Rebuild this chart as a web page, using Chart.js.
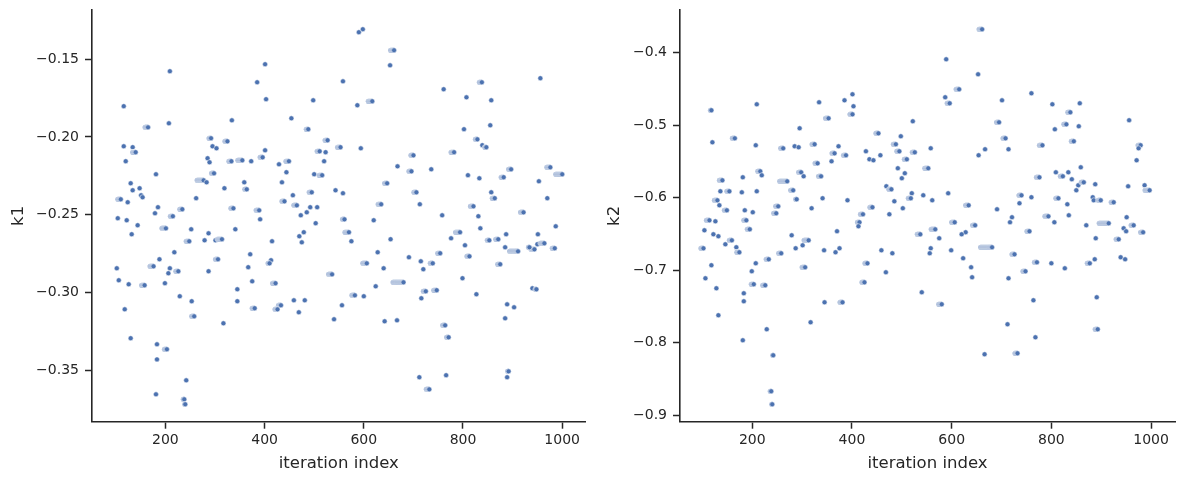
<!DOCTYPE html>
<html>
<head>
<meta charset="utf-8">
<script src="https://cdn.jsdelivr.net/npm/chart.js@4.4.1/dist/chart.umd.min.js"></script>
<style>
  body { margin: 0; background: #fff; }
  .panel { position: absolute; top: 0; height: 484px; }
</style>
</head>
<body>
<div class="panel" style="left:0;width:590px"><canvas id="k1" width="590" height="484"></canvas></div>
<div class="panel" style="left:590px;width:593px"><canvas id="k2" width="593" height="484"></canvas></div>
<script>
// each run: [last iteration, value, number of iterations the value was kept]
const k1Runs = [
  [209,-0.1577,1],[116,-0.1802,1],[165,-0.1938,7],[207,-0.1912,1],[292,-0.2008,5],[116,-0.2060,1],
  [134,-0.2066,1],[140,-0.2098,7],[295,-0.2060,1],[303,-0.2073,1],[120,-0.2156,1],[285,-0.2137,1],
  [289,-0.2163,1],[181,-0.2240,1],[298,-0.2234,6],[130,-0.2298,1],[148,-0.2330,1],[134,-0.2343,1],
  [277,-0.2279,14],[283,-0.2292,1],[110,-0.2401,7],[124,-0.2420,1],[151,-0.2375,1],[154,-0.2388,1],
  [185,-0.2452,1],[179,-0.2491,1],[262,-0.2394,1],[234,-0.2465,6],[215,-0.2510,6],[104,-0.2523,1],
  [122,-0.2536,1],[144,-0.2568,1],[132,-0.2626,1],[201,-0.2588,9],[252,-0.2594,1],[287,-0.2620,1],
  [248,-0.2671,7],[279,-0.2665,1],[301,-0.2665,1],[314,-0.2658,10],[218,-0.2742,1],[188,-0.2787,1],
  [102,-0.2845,1],[176,-0.2832,8],[209,-0.2845,1],[206,-0.2877,1],[226,-0.2864,6],[306,-0.2787,6],
  [287,-0.2864,1],[106,-0.2922,1],[126,-0.2948,1],[158,-0.2954,7],[199,-0.2941,1],[229,-0.3025,1],
  [253,-0.3057,1],[258,-0.3154,6],[118,-0.3109,1],[317,-0.3199,1],[130,-0.3295,1],[183,-0.3334,1],
  [203,-0.3366,6],[183,-0.3431,1],[242,-0.3566,1],[181,-0.3656,1],[238,-0.3688,3],[240,-0.3720,2],
  [401,-0.1532,1],[385,-0.1648,1],[403,-0.1757,1],[558,-0.1642,1],[498,-0.1764,1],[334,-0.1893,1],
  [454,-0.1880,1],[488,-0.1950,5],[325,-0.2028,6],[401,-0.2086,1],[396,-0.2131,6],[333,-0.2156,6],
  [355,-0.2150,10],[373,-0.2156,1],[429,-0.2176,1],[449,-0.2156,7],[444,-0.2227,1],[527,-0.2021,6],
  [511,-0.2092,6],[523,-0.2098,1],[553,-0.2066,7],[520,-0.2156,1],[500,-0.2240,1],[516,-0.2246,7],
  [359,-0.2292,1],[435,-0.2292,1],[319,-0.2330,1],[364,-0.2337,5],[457,-0.2375,1],[495,-0.2356,6],
  [543,-0.2343,1],[558,-0.2362,1],[337,-0.2459,6],[389,-0.2472,7],[440,-0.2414,6],[465,-0.2440,7],
  [492,-0.2452,1],[506,-0.2452,1],[485,-0.2485,1],[473,-0.2504,1],[391,-0.2530,1],[561,-0.2530,5],
  [503,-0.2555,1],[341,-0.2594,1],[479,-0.2613,1],[470,-0.2639,1],[475,-0.2678,1],[415,-0.2671,1],
  [570,-0.2613,9],[371,-0.2755,1],[367,-0.2838,1],[413,-0.2793,1],[410,-0.2813,4],[375,-0.2929,1],
  [422,-0.2941,7],[345,-0.2980,1],[345,-0.3057,1],[380,-0.3102,6],[433,-0.3083,6],[426,-0.3109,6],
  [459,-0.3051,1],[481,-0.3051,1],[469,-0.3128,1],[536,-0.2884,8],[556,-0.3083,1],[540,-0.3173,1],
  [598,-0.1307,1],[590,-0.1326,1],[661,-0.1442,8],[653,-0.1539,1],[761,-0.1693,1],[807,-0.1745,1],
  [617,-0.1770,9],[587,-0.1796,1],[802,-0.1950,1],[594,-0.2073,1],[700,-0.2118,6],[782,-0.2098,7],
  [668,-0.2189,1],[696,-0.2221,6],[736,-0.2208,1],[810,-0.2246,1],[647,-0.2298,6],[706,-0.2356,6],
  [713,-0.2433,1],[635,-0.2433,7],[758,-0.2504,1],[821,-0.2446,7],[620,-0.2536,1],[575,-0.2671,1],
  [654,-0.2658,1],[794,-0.2613,10],[776,-0.2652,1],[804,-0.2697,1],[628,-0.2742,1],[606,-0.2813,9],
  [640,-0.2845,1],[691,-0.2774,1],[715,-0.2800,1],[720,-0.2851,1],[739,-0.2813,6],[754,-0.2748,6],
  [813,-0.2768,6],[799,-0.2909,1],[624,-0.2961,1],[582,-0.3019,7],[600,-0.3025,1],[680,-0.2935,22],
  [725,-0.2993,6],[747,-0.2986,7],[716,-0.3038,1],[642,-0.3186,1],[667,-0.3180,1],[764,-0.3212,6],
  [771,-0.3289,5],[712,-0.3546,1],[766,-0.3533,1],[732,-0.3624,7],
  [956,-0.1622,1],[838,-0.1648,6],[857,-0.1764,1],[855,-0.1925,1],[829,-0.2015,5],[839,-0.2053,1],
  [847,-0.2066,4],[897,-0.2208,6],[976,-0.2195,8],[1000,-0.2240,14],[833,-0.2266,1],[882,-0.2259,6],
  [953,-0.2285,1],[857,-0.2356,1],[864,-0.2394,6],[970,-0.2394,1],[831,-0.2510,1],[922,-0.2485,7],
  [835,-0.2588,1],[987,-0.2575,1],[853,-0.2665,5],[871,-0.2658,6],[887,-0.2626,1],[951,-0.2626,1],
  [885,-0.2710,1],[911,-0.2736,18],[944,-0.2723,8],[934,-0.2710,3],[950,-0.2690,1],[964,-0.2684,9],
  [985,-0.2716,6],[875,-0.2819,6],[827,-0.3012,1],[940,-0.2974,1],[948,-0.2980,3],[889,-0.3077,1],
  [903,-0.3096,1],[885,-0.3167,1],[892,-0.3508,3],[889,-0.3546,1]
];

const k2Runs = [
  [118,-0.4794,3],[209,-0.4712,1],[120,-0.5236,1],[165,-0.5181,6],[207,-0.5277,1],[295,-0.5043,1],
  [262,-0.5319,6],[285,-0.5291,1],[293,-0.5305,1],[216,-0.5636,6],[219,-0.5691,1],[181,-0.5719,1],
  [140,-0.5760,7],[270,-0.5774,16],[298,-0.5650,6],[303,-0.5705,1],[136,-0.5912,1],[154,-0.5912,6],
  [179,-0.5926,1],[209,-0.5912,1],[282,-0.5898,6],[289,-0.6022,3],[130,-0.6036,7],[134,-0.6105,1],
  [149,-0.6174,6],[185,-0.6174,1],[201,-0.6201,1],[252,-0.6119,6],[248,-0.6215,6],[114,-0.6312,7],
  [126,-0.6326,1],[188,-0.6312,6],[104,-0.6450,1],[122,-0.6505,1],[132,-0.6532,1],[159,-0.6588,6],
  [195,-0.6436,6],[146,-0.6643,1],[168,-0.6684,1],[174,-0.6753,6],[102,-0.6698,6],[279,-0.6519,1],
  [287,-0.6698,1],[301,-0.6657,1],[313,-0.6588,10],[233,-0.6850,6],[258,-0.6767,6],[118,-0.6932,1],
  [207,-0.6905,1],[199,-0.7015,1],[306,-0.6960,7],[106,-0.7112,1],[128,-0.7250,1],[203,-0.7194,6],
  [226,-0.7208,6],[183,-0.7319,1],[183,-0.7429,1],[132,-0.7622,1],[229,-0.7815,1],[317,-0.7719,1],
  [181,-0.7967,1],[242,-0.8174,2],[238,-0.8670,3],[240,-0.8850,2],
  [401,-0.4574,1],[385,-0.4657,1],[334,-0.4684,1],[403,-0.4739,1],[401,-0.4850,6],[353,-0.4905,7],
  [522,-0.4946,1],[453,-0.5112,6],[498,-0.5153,1],[325,-0.5263,6],[373,-0.5291,1],[365,-0.5388,6],
  [388,-0.5415,6],[428,-0.5360,1],[457,-0.5415,1],[435,-0.5470,1],[443,-0.5484,1],[488,-0.5263,6],
  [495,-0.5360,6],[526,-0.5374,6],[558,-0.5319,1],[510,-0.5470,6],[331,-0.5526,6],[359,-0.5498,1],
  [492,-0.5594,1],[506,-0.5663,1],[500,-0.5732,1],[553,-0.5594,8],[338,-0.5705,6],[469,-0.5843,1],
  [479,-0.5884,6],[520,-0.5939,1],[543,-0.5967,1],[518,-0.6008,6],[561,-0.6036,1],[341,-0.6008,1],
  [391,-0.6036,1],[319,-0.6146,1],[441,-0.6132,6],[485,-0.6050,1],[475,-0.6229,1],[502,-0.6146,1],
  [422,-0.6229,6],[415,-0.6339,5],[413,-0.6394,1],[370,-0.6463,1],[537,-0.6505,7],[567,-0.6436,9],
  [344,-0.6726,1],[375,-0.6698,1],[367,-0.6753,1],[459,-0.6726,1],[481,-0.6767,1],[558,-0.6698,1],
  [556,-0.6767,1],[431,-0.6905,6],[468,-0.7029,1],[425,-0.7167,6],[540,-0.7305,1],[345,-0.7443,1],
  [381,-0.7443,6],
  [661,-0.3677,7],[589,-0.4091,1],[653,-0.4298,1],[615,-0.4505,7],[587,-0.4615,1],[596,-0.4698,6],
  [701,-0.4657,1],[760,-0.4560,1],[802,-0.4712,1],[695,-0.4960,6],[807,-0.5057,1],[708,-0.5181,6],
  [667,-0.5332,1],[654,-0.5415,1],[714,-0.5332,1],[782,-0.5277,7],[776,-0.5719,7],[809,-0.5650,1],
  [593,-0.5939,1],[634,-0.6105,7],[691,-0.6160,1],[740,-0.5967,6],[760,-0.5994,1],[736,-0.6077,1],
  [606,-0.6339,7],[575,-0.6560,1],[628,-0.6477,1],[620,-0.6505,1],[647,-0.6381,6],[721,-0.6270,1],
  [717,-0.6339,1],[794,-0.6257,8],[806,-0.6339,1],[756,-0.6463,6],[599,-0.6726,1],[623,-0.6836,1],
  [639,-0.6960,1],[641,-0.7098,1],[681,-0.6684,24],[726,-0.6781,6],[714,-0.7112,1],[771,-0.6891,6],
  [748,-0.7015,6],[800,-0.6905,1],[580,-0.7470,7],[764,-0.7415,1],[712,-0.7746,1],[768,-0.7926,1],
  [666,-0.8160,1],[732,-0.8146,6],
  [857,-0.4698,1],[838,-0.4822,6],[830,-0.4988,6],[855,-0.5015,1],[956,-0.4932,1],[845,-0.5222,6],
  [979,-0.5277,6],[975,-0.5319,1],[971,-0.5484,1],[859,-0.5581,1],[834,-0.5650,1],[823,-0.5705,6],
  [841,-0.5746,1],[854,-0.5829,1],[850,-0.5898,1],[865,-0.5788,6],[888,-0.5815,1],[954,-0.5843,1],
  [987,-0.5829,1],[997,-0.5898,10],[814,-0.6008,6],[832,-0.6091,1],[883,-0.5994,1],[885,-0.6036,1],
  [899,-0.6036,6],[925,-0.6063,6],[835,-0.6243,1],[870,-0.6381,1],[915,-0.6353,20],[951,-0.6270,1],
  [945,-0.6422,1],[950,-0.6463,1],[965,-0.6381,6],[984,-0.6477,6],[889,-0.6560,1],[935,-0.6574,6],
  [827,-0.6974,1],[877,-0.6905,6],[887,-0.6850,1],[939,-0.6822,1],[948,-0.6850,1],[891,-0.7374,1],
  [893,-0.7815,6]
];

const xTicks = [200, 400, 600, 800, 1000];
const k1Ticks = [-0.35, -0.30, -0.25, -0.20, -0.15];
const k2Ticks = [-0.9, -0.8, -0.7, -0.6, -0.5, -0.4];

const INK = '#262626';
const FONT = 'DejaVu Sans';

function expand(runs) {
  const pts = [];
  runs.forEach(([it, v, n]) => {
    for (let j = n - 1; j >= 0; j--) pts.push({x: it - j, y: v});
  });
  return pts;
}

function fmt(v, digits) {
  return (v < 0 ? '\u2212' : '') + Math.abs(v).toFixed(digits);
}

function makeChart(id, runs, cfg) {
  new Chart(document.getElementById(id), {
    type: 'scatter',
    data: {
      datasets: [{
        data: expand(runs),
        backgroundColor: '#4c72b0',
        borderColor: '#ffffff',
        borderWidth: 0.5,
        pointRadius: 2.5
      }]
    },
    options: {
      responsive: false,
      animation: false,
      layout: {padding: {top: 10, right: cfg.padRight, bottom: 0, left: 0}},
      plugins: {legend: {display: false}, tooltip: {enabled: false}},
      scales: {
        x: {
          type: 'linear',
          min: cfg.xMin, max: cfg.xMax,
          afterBuildTicks: s => { s.ticks = xTicks.map(v => ({value: v})); },
          afterFit: s => { s.height = 62.3; s.paddingLeft = 0; s.paddingRight = 0; },
          grid: {drawOnChartArea: false, tickLength: 7, tickWidth: 1.5, tickColor: INK},
          border: {color: INK, width: 1.6},
          ticks: {color: INK, font: {family: FONT, size: 14}, padding: 3, maxRotation: 0, autoSkip: false,
                  callback: v => String(v)},
          title: {display: true, text: 'iteration index', color: INK,
                  font: {family: FONT, size: 16.5}, padding: {top: 0, bottom: 10}}
        },
        y: {
          type: 'linear',
          min: cfg.yMin, max: cfg.yMax,
          afterBuildTicks: s => { s.ticks = cfg.yTicks.map(v => ({value: v})); },
          afterFit: s => { s.width = cfg.yWidth; s.paddingTop = 0; s.paddingBottom = 0; },
          grid: {drawOnChartArea: false, tickLength: 7, tickWidth: 1.5, tickColor: INK},
          border: {color: INK, width: 1.6},
          ticks: {color: INK, font: {family: FONT, size: 14}, padding: 6, autoSkip: false,
                  callback: v => fmt(v, cfg.digits)},
          title: {display: true, text: cfg.label, color: INK,
                  font: {family: FONT, size: 16.5}, padding: {top: cfg.titlePad, bottom: 0}}
        }
      }
    }
  });
}

makeChart('k1', k1Runs, {xMin: 52, xMax: 1047, yMin: -0.3832, yMax: -0.1183, yTicks: k1Ticks,
  yWidth: 92, padRight: 2, digits: 2, label: 'k1', titlePad: 8.4});
makeChart('k2', k2Runs, {xMin: 55, xMax: 1048, yMin: -0.909, yMax: -0.3411, yTicks: k2Ticks,
  yWidth: 90, padRight: 8, digits: 1, label: 'k2', titlePad: 15});
</script>
</body>
</html>
